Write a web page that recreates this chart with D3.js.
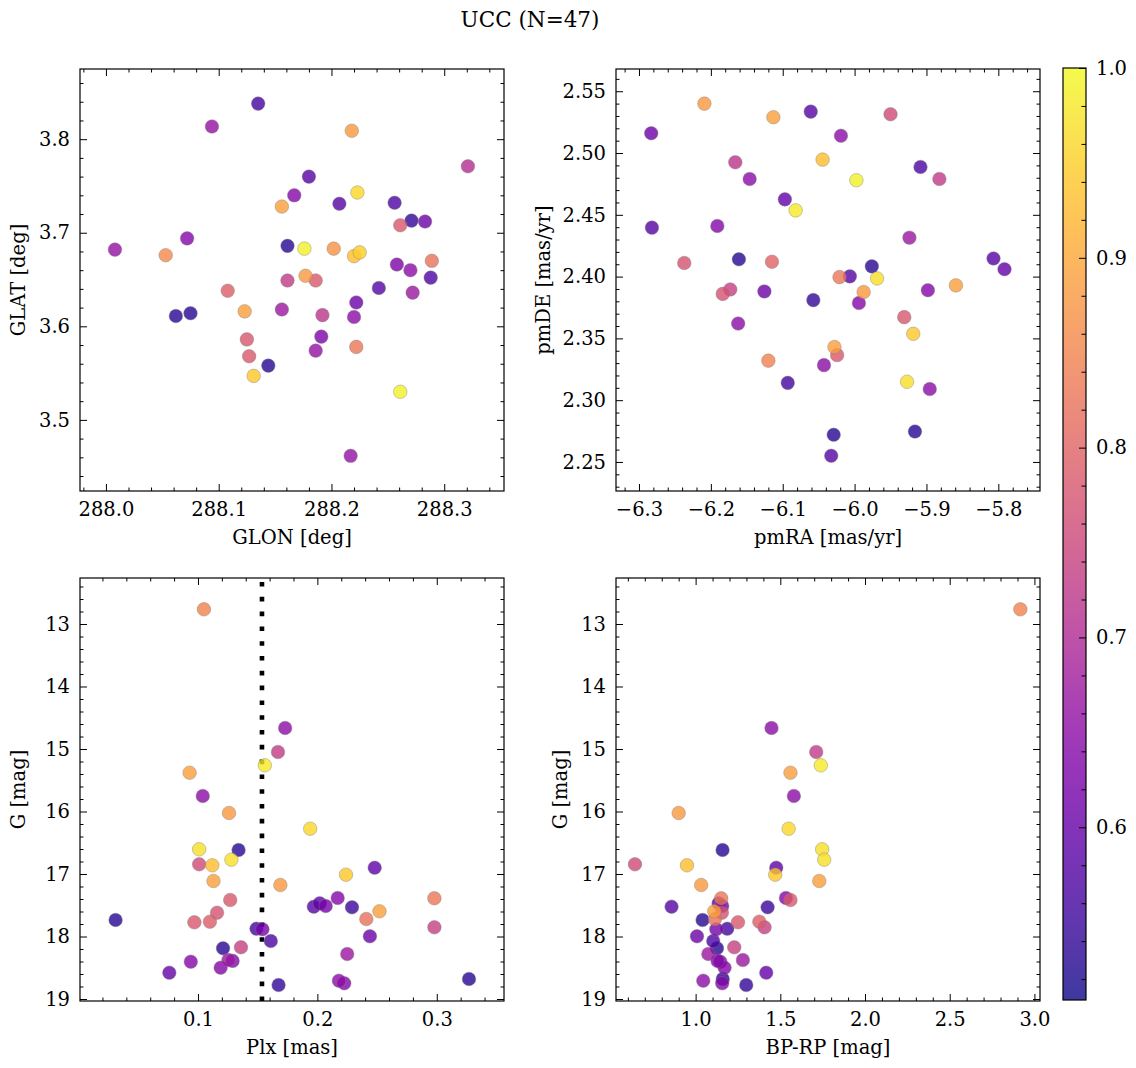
<!DOCTYPE html>
<html>
<head>
<meta charset="utf-8">
<script src="https://cdn.jsdelivr.net/npm/d3@7"></script>
<style>
  html, body { margin: 0; padding: 0; background: #fff; }
  svg { display: block; }
  text { font-family: "DejaVu Serif", serif; fill: #000; }
</style>
</head>
<body>
<svg id="chart" width="1136" height="1068"></svg>
<script>
// ---------------- data ----------------
const title = "UCC (N=47)";

// Panel 1: sky positions
const glon = [288.008, 288.053, 288.072, 288.062, 288.075, 288.094, 288.135, 288.108, 288.123, 288.125,
  288.127, 288.131, 288.144, 288.156, 288.167, 288.180, 288.161, 288.176, 288.177, 288.161,
  288.186, 288.156, 288.192, 288.191, 288.186, 288.202, 288.207, 288.218, 288.223, 288.220,
  288.225, 288.222, 288.220, 288.222, 288.217, 288.242, 288.256, 288.258, 288.261, 288.271,
  288.270, 288.272, 288.283, 288.289, 288.288, 288.261, 288.321];
const glat = [3.682, 3.676, 3.694, 3.611, 3.614, 3.8135, 3.838, 3.638, 3.616, 3.586,
  3.568, 3.547, 3.558, 3.728, 3.740, 3.760, 3.686, 3.683, 3.654, 3.649,
  3.649, 3.618, 3.612, 3.589, 3.574, 3.683, 3.731, 3.809, 3.743, 3.675,
  3.679, 3.6255, 3.610, 3.578, 3.4616, 3.641, 3.732, 3.666, 3.708, 3.713,
  3.660, 3.636, 3.712, 3.670, 3.652, 3.530, 3.771];
const probSky = [0.66, 0.86, 0.64, 0.53, 0.53, 0.66, 0.56, 0.79, 0.89, 0.78,
  0.78, 0.94, 0.53, 0.89, 0.64, 0.58, 0.53, 0.99, 0.88, 0.73,
  0.78, 0.67, 0.72, 0.63, 0.66, 0.87, 0.58, 0.88, 0.96, 0.93,
  0.95, 0.61, 0.65, 0.83, 0.66, 0.58, 0.57, 0.63, 0.78, 0.54,
  0.65, 0.67, 0.61, 0.82, 0.57, 0.99, 0.71];

// Panel 2: proper motions
const pmra = [-6.283, -6.282, -6.209, -6.237, -6.191, -6.166, -6.146, -6.161, -6.1835, -6.173,
  -6.162, -6.113, -6.115, -6.1255, -6.120, -6.097, -6.082, -6.093, -6.061, -6.0574,
  -6.0445, -6.019, -6.028, -6.0243, -6.0426, -6.0066, -6.021, -6.0291, -6.0325, -5.9975,
  -5.994, -5.9874, -5.976, -5.9687, -5.950, -5.9083, -5.9237, -5.9309, -5.9184, -5.927,
  -5.916, -5.898, -5.8954, -5.882, -5.859, -5.8067, -5.7914];
const pmde = [2.516, 2.4396, 2.540, 2.411, 2.441, 2.4925, 2.479, 2.414, 2.386, 2.3896,
  2.362, 2.529, 2.412, 2.388, 2.332, 2.4625, 2.4536, 2.314, 2.5335, 2.381,
  2.4947, 2.514, 2.343, 2.3365, 2.3284, 2.4002, 2.3996, 2.272, 2.255, 2.478,
  2.3786, 2.3875, 2.4083, 2.3985, 2.5314, 2.4887, 2.4315, 2.3672, 2.3537, 2.3149,
  2.2746, 2.389, 2.309, 2.479, 2.3929, 2.4147, 2.406];
const probPM = [0.61, 0.58, 0.88, 0.77, 0.64, 0.72, 0.65, 0.53, 0.77, 0.74,
  0.65, 0.89, 0.80, 0.61, 0.85, 0.60, 0.98, 0.56, 0.58, 0.54,
  0.93, 0.65, 0.89, 0.78, 0.65, 0.58, 0.83, 0.53, 0.58, 0.99,
  0.64, 0.88, 0.53, 0.97, 0.76, 0.57, 0.67, 0.78, 0.94, 0.97,
  0.53, 0.64, 0.65, 0.73, 0.89, 0.58, 0.60];

// Panels 3 & 4: parallax, magnitude, colour
const plx = [0.031, 0.076, 0.094, 0.105, 0.093, 0.104, 0.126, 0.101, 0.101, 0.112,
  0.113, 0.128, 0.134, 0.097, 0.110, 0.116, 0.127, 0.121, 0.136, 0.119,
  0.1255, 0.129, 0.149, 0.154, 0.161, 0.1675, 0.173, 0.167, 0.156, 0.194,
  0.169, 0.197, 0.202, 0.207, 0.217, 0.229, 0.224, 0.225, 0.218, 0.2225,
  0.248, 0.241, 0.252, 0.244, 0.298, 0.298, 0.327];
const gmag = [17.736, 18.579, 18.403, 12.765, 15.379, 15.752, 16.024, 16.605, 16.845, 16.861,
  17.112, 16.771, 16.616, 17.773, 17.763, 17.619, 17.416, 18.189, 18.173, 18.499,
  18.376, 18.39, 17.875, 17.885, 18.072, 18.776, 14.664, 15.048, 15.261, 16.275,
  17.176, 17.523, 17.47, 17.512, 17.384, 17.533, 17.011, 18.28, 18.707, 18.749,
  16.899, 17.72, 17.597, 17.997, 17.389, 17.853, 18.68];
const bprp = [1.041, 1.417, 1.146, 2.917, 1.560, 1.580, 0.900, 1.747, 0.642, 0.949,
  1.730, 1.759, 1.159, 1.250, 1.376, 1.155, 1.560, 1.126, 1.228, 1.171,
  1.279, 1.130, 1.187, 1.122, 1.104, 1.299, 1.448, 1.712, 1.739, 1.549,
  1.033, 0.858, 1.136, 1.157, 1.533, 1.425, 1.470, 1.075, 1.045, 1.157,
  1.476, 1.114, 1.110, 1.008, 1.151, 1.407, 1.160];
const probPhot = [0.53, 0.60, 0.64, 0.85, 0.89, 0.65, 0.88, 0.97, 0.76, 0.93,
  0.89, 0.97, 0.53, 0.78, 0.79, 0.77, 0.78, 0.53, 0.74, 0.64,
  0.67, 0.64, 0.56, 0.62, 0.57, 0.54, 0.65, 0.73, 0.98, 0.96,
  0.88, 0.58, 0.59, 0.62, 0.64, 0.55, 0.94, 0.67, 0.65, 0.64,
  0.59, 0.82, 0.89, 0.61, 0.83, 0.74, 0.53];

const plxLine = 0.1536;
const probRange = [0.509, 1.0];

const glonTicks = [288.0, 288.1, 288.2, 288.3];
const glatTicks = [3.5, 3.6, 3.7, 3.8];
const pmraTicks = [-6.3, -6.2, -6.1, -6.0, -5.9, -5.8];
const pmdeTicks = [2.25, 2.30, 2.35, 2.40, 2.45, 2.50, 2.55];
const plxTicks = [0.1, 0.2, 0.3];
const gTicks = [13, 14, 15, 16, 17, 18, 19];
const bprpTicks = [1.0, 1.5, 2.0, 2.5, 3.0];
const cbarTicks = [0.6, 0.7, 0.8, 0.9, 1.0];

// ---------------- drawing ----------------
const svg = d3.select("#chart");
const FS = 19.5;
const color = d3.scaleSequential(d3.interpolatePlasma).domain(probRange);
const ALPHA = 0.8;

function minorTicks(domain, step, majors) {
  const lo = Math.min(...domain), hi = Math.max(...domain);
  const out = [];
  const start = Math.ceil(lo / step - 1e-9);
  for (let k = start; k * step <= hi + 1e-9; k++) {
    const v = +(k * step).toFixed(6);
    if (!majors.some(m => Math.abs(m - v) < step * 1e-3)) out.push(v);
  }
  return out;
}
const fmtMinus = f => (v => f(v).replace("-", "\u2212"));

function panel(cfg) {
  const {x0, x1, y0, y1, xd, yd, xs, ys, xmaj, ymaj, xmin, ymin, xfmt, yfmt, xlabel, ylabel, ylabelX} = cfg;
  const x = d3.scaleLinear().domain(xd).range([x0, x1]);
  const y = d3.scaleLinear().domain(yd).range([y1, y0]);
  const g = svg.append("g");
  const W = x1 - x0, H = y1 - y0;

  const mk = (axisFn, scale, vals, size, fmt, pad) => {
    const a = axisFn(scale).tickValues(vals).tickSize(-size).tickPadding(pad);
    if (fmt) a.tickFormat(fmt); else a.tickFormat("");
    return a;
  };
  const xMinV = minorTicks(xd, xmin, xmaj);
  const yMinV = minorTicks(yd, ymin, ymaj);
  const axes = [
    [d3.axisBottom, x, xmaj, 7, xfmt, `translate(0,${y1})`, 11],
    [d3.axisBottom, x, xMinV, 3.5, null, `translate(0,${y1})`, 11],
    [d3.axisTop, x, xmaj, 7, null, `translate(0,${y0})`, 10],
    [d3.axisTop, x, xMinV, 3.5, null, `translate(0,${y0})`, 10],
    [d3.axisLeft, y, ymaj, 7, yfmt, `translate(${x0},0)`, 10],
    [d3.axisLeft, y, yMinV, 3.5, null, `translate(${x0},0)`, 10],
    [d3.axisRight, y, ymaj, 7, null, `translate(${x1},0)`, 10],
    [d3.axisRight, y, yMinV, 3.5, null, `translate(${x1},0)`, 10]
  ];
  axes.forEach(([fn, sc, vals, size, fmt, tr, pad]) => {
    const ag = g.append("g").attr("transform", tr).call(mk(fn, sc, vals, size, fmt, pad));
    ag.select(".domain").remove();
    ag.selectAll(".tick line").attr("stroke", "#000").attr("stroke-width", 1);
    ag.selectAll(".tick text").attr("font-size", FS).attr("font-family", "DejaVu Serif").attr("fill", "#000");
  });

  // points (sorted so higher probability lies on top)
  const idx = d3.range(xs.length).sort((a, b) => cfg.pr[a] - cfg.pr[b]);
  const clipId = "clip" + Math.round(x0) + "_" + Math.round(y0);
  g.append("clipPath").attr("id", clipId).append("rect").attr("x", x0).attr("y", y0).attr("width", W).attr("height", H);
  const pg = g.append("g").attr("clip-path", `url(#${clipId})`);
  if (cfg.vline !== undefined) {
    pg.append("line")
      .attr("x1", x(cfg.vline)).attr("x2", x(cfg.vline))
      .attr("y1", y1).attr("y2", y0)
      .attr("stroke", "#000").attr("stroke-width", 4.6)
      .attr("stroke-dasharray", "4.6 10.2");
  }
  pg.selectAll("circle").data(idx).join("circle")
    .attr("cx", i => x(xs[i])).attr("cy", i => y(ys[i])).attr("r", 6.8)
    .attr("fill", i => color(cfg.pr[i])).attr("fill-opacity", ALPHA)
    .attr("stroke", "#808080").attr("stroke-opacity", ALPHA).attr("stroke-width", 0.5);

  // frame
  g.append("rect").attr("x", x0).attr("y", y0).attr("width", W).attr("height", H)
    .attr("fill", "none").attr("stroke", "#000").attr("stroke-width", 1.2);

  // labels
  g.append("text").attr("x", (x0 + x1) / 2).attr("y", y1 + 53).attr("text-anchor", "middle")
    .attr("font-size", FS).text(xlabel);
  g.append("text").attr("transform", `translate(${ylabelX},${(y0 + y1) / 2}) rotate(-90)`)
    .attr("text-anchor", "middle").attr("font-size", FS).text(ylabel);
}

svg.append("text").attr("x", 530).attr("y", 27).attr("text-anchor", "middle")
  .attr("font-size", 21.5).text(title);

const L = [80, 504], R = [616, 1040], T = [69, 491], B = [578, 1001];

panel({x0: L[0], x1: L[1], y0: T[0], y1: T[1], xd: [287.977, 288.353], yd: [3.424, 3.875],
  xs: glon, ys: glat, pr: probSky, xmaj: glonTicks, ymaj: glatTicks, xmin: 0.02, ymin: 0.02,
  xfmt: d3.format(".1f"), yfmt: d3.format(".1f"), xlabel: "GLON [deg]", ylabel: "GLAT [deg]", ylabelX: 25});

panel({x0: R[0], x1: R[1], y0: T[0], y1: T[1], xd: [-6.332, -5.742], yd: [2.2265, 2.568],
  xs: pmra, ys: pmde, pr: probPM, xmaj: pmraTicks, ymaj: pmdeTicks, xmin: 0.02, ymin: 0.01,
  xfmt: fmtMinus(d3.format(".1f")), yfmt: d3.format(".2f"), xlabel: "pmRA [mas/yr]", ylabel: "pmDE [mas/yr]", ylabelX: 550});

panel({x0: L[0], x1: L[1], y0: B[0], y1: B[1], xd: [0.0012, 0.3563], yd: [19.032, 12.264],
  xs: plx, ys: gmag, pr: probPhot, xmaj: plxTicks, ymaj: gTicks, xmin: 0.02, ymin: 0.2,
  xfmt: d3.format(".1f"), yfmt: d3.format("d"), xlabel: "Plx [mas]", ylabel: "G [mag]", ylabelX: 25, vline: plxLine});

panel({x0: R[0], x1: R[1], y0: B[0], y1: B[1], xd: [0.530, 3.033], yd: [19.032, 12.264],
  xs: bprp, ys: gmag, pr: probPhot, xmaj: bprpTicks, ymaj: gTicks, xmin: 0.1, ymin: 0.2,
  xfmt: d3.format(".1f"), yfmt: d3.format("d"), xlabel: "BP-RP [mag]", ylabel: "G [mag]", ylabelX: 567});

// colorbar
const cb = {x0: 1063, x1: 1086, y0: 68, y1: 1000};
const cy = d3.scaleLinear().domain(probRange).range([cb.y1, cb.y0]);
const defs = svg.append("defs");
const grad = defs.append("linearGradient").attr("id", "cbgrad").attr("x1", 0).attr("y1", 1).attr("x2", 0).attr("y2", 0);
d3.range(0, 1.0001, 0.05).forEach(t => {
  grad.append("stop").attr("offset", t).attr("stop-color", d3.interpolatePlasma(t)).attr("stop-opacity", ALPHA);
});
svg.append("rect").attr("x", cb.x0).attr("y", cb.y0).attr("width", cb.x1 - cb.x0).attr("height", cb.y1 - cb.y0)
  .attr("fill", "url(#cbgrad)");
const cbMin = minorTicks(probRange, 0.02, cbarTicks);
const cbg = svg.append("g").attr("transform", `translate(${cb.x1},0)`);
cbg.call(d3.axisRight(cy).tickValues(cbarTicks).tickSize(-7).tickPadding(10).tickFormat(d3.format(".1f")));
const cbg2 = svg.append("g").attr("transform", `translate(${cb.x1},0)`);
cbg2.call(d3.axisRight(cy).tickValues(cbMin).tickSize(-4.5).tickFormat(""));
[cbg, cbg2].forEach(a => {
  a.select(".domain").remove();
  a.selectAll(".tick line").attr("stroke", "#000");
  a.selectAll(".tick text").attr("font-size", FS).attr("font-family", "DejaVu Serif").attr("fill", "#000");
});
svg.append("rect").attr("x", cb.x0).attr("y", cb.y0).attr("width", cb.x1 - cb.x0).attr("height", cb.y1 - cb.y0)
  .attr("fill", "none").attr("stroke", "#000").attr("stroke-width", 1.2);
</script>
</body>
</html>
